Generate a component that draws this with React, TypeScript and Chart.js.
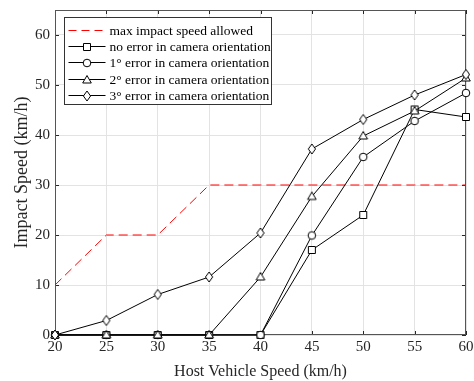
import React, { useEffect, useRef } from "react";
import { Chart, registerables } from "chart.js";

Chart.register(...registerables);

const hostSpeeds = [20, 25, 30, 35, 40, 45, 50, 55, 60];
const maxAllowed = [10, 20, 20, 30, 30, 30, 30, 30, 30];
const noError = [0, 0, 0, 0, 0, 17, 24, 45.1, 43.6];
const err1 = [0, 0, 0, 0, 0, 19.9, 35.6, 42.8, 48.4];
const err2 = [0, 0, 0, 0, 11.6, 27.7, 39.8, 44.8, 51.4];
const err3 = [0, 2.9, 8.1, 11.6, 20.4, 37.2, 43.1, 48, 52.1];
const xTicks = [20, 25, 30, 35, 40, 45, 50, 55, 60];
const yTicks = [0, 10, 20, 30, 40, 50, 60];

const labels = [
  "max impact speed allowed",
  "no error in camera orientation",
  "1° error in camera orientation",
  "2° error in camera orientation",
  "3° error in camera orientation",
];
const markerKinds = ["", "square", "circle", "triangle", "diamond"];
const series = [maxAllowed, noError, err1, err2, err3];

const FONT = "'Liberation Serif', 'Times New Roman', serif";
const AXIS = "#262626";

function makeMarker(kind: string): HTMLCanvasElement {
  const c = document.createElement("canvas");
  const w = 12;
  const h = 14;
  c.width = w;
  c.height = h;
  const g = c.getContext("2d")!;
  const cx = w / 2;
  const cy = h / 2;
  g.fillStyle = "#fff";
  g.strokeStyle = "#000";
  g.lineWidth = 1;
  g.beginPath();
  if (kind === "square") {
    g.rect(cx - 3.5, cy - 3.5, 7, 7);
  } else if (kind === "circle") {
    g.arc(cx, cy, 3.8, 0, Math.PI * 2);
  } else if (kind === "triangle") {
    g.moveTo(cx, cy - 4.5);
    g.lineTo(cx + 4.3, cy + 3);
    g.lineTo(cx - 4.3, cy + 3);
    g.closePath();
  } else {
    g.moveTo(cx, cy - 5);
    g.lineTo(cx + 3.6, cy);
    g.lineTo(cx, cy + 5);
    g.lineTo(cx - 3.6, cy);
    g.closePath();
  }
  g.fill();
  g.stroke();
  return c;
}

const frameTicks = {
  id: "frameTicks",
  beforeDatasetsDraw(chart: any) {
    const { ctx, chartArea: a, scales } = chart;
    ctx.save();
    ctx.strokeStyle = AXIS;
    ctx.lineWidth = 1;
    ctx.beginPath();
    const L = 4;
    xTicks.forEach((v) => {
      const x = Math.round(scales.x.getPixelForValue(v)) + 0.5;
      ctx.moveTo(x, a.bottom);
      ctx.lineTo(x, a.bottom - L);
      ctx.moveTo(x, a.top);
      ctx.lineTo(x, a.top + L);
    });
    yTicks.forEach((v) => {
      const y = Math.round(scales.y.getPixelForValue(v)) + 0.5;
      ctx.moveTo(a.left, y);
      ctx.lineTo(a.left + L, y);
      ctx.moveTo(a.right, y);
      ctx.lineTo(a.right - L, y);
    });
    ctx.stroke();
    ctx.strokeStyle = "#555";
    ctx.strokeRect(a.left + 0.5, a.top + 0.5, a.right - a.left - 1, a.bottom - a.top - 1);
    ctx.restore();
  },
};

export default function App() {
  const ref = useRef<HTMLCanvasElement | null>(null);
  useEffect(() => {
    if (!ref.current) return;
    const imgs = markerKinds.map((k) => (k ? makeMarker(k) : null));
    const legendBox = {
      id: "legendBox",
      afterDraw(chart: any) {
        const { ctx, chartArea: a } = chart;
        const bx = Math.round(a.left) + 9.5;
        const by = Math.round(a.top) + 7.5;
        const bw = 207;
        const bh = 87;
        ctx.save();
        ctx.fillStyle = "#fff";
        ctx.fillRect(bx, by, bw, bh);
        ctx.strokeStyle = "#333";
        ctx.lineWidth = 1;
        ctx.strokeRect(bx, by, bw, bh);
        ctx.font = `13.5px ${FONT}`;
        ctx.textBaseline = "middle";
        labels.forEach((lab, i) => {
          const y = Math.round(by + 12 + i * 16.4) + 0.5;
          const x0 = bx + 4;
          const x1 = bx + 41;
          const cx = (x0 + x1) / 2;
          ctx.beginPath();
          if (i === 0) {
            ctx.strokeStyle = "#ff0000";
            ctx.setLineDash([8, 5]);
          } else {
            ctx.strokeStyle = "#000";
            ctx.setLineDash([]);
          }
          ctx.moveTo(x0, y);
          ctx.lineTo(x1, y);
          ctx.stroke();
          ctx.setLineDash([]);
          const im = imgs[i];
          if (im) ctx.drawImage(im, Math.round(cx - im.width / 2), Math.round(y - im.height / 2));
          ctx.fillStyle = "#000";
          ctx.fillText(lab, bx + 45, y + 0.5);
        });
        ctx.restore();
      },
    };
    const datasets = series.map((d, i) => ({
      label: labels[i],
      data: d,
      order: series.length - i,
      borderColor: i === 0 ? "#ff0000" : "#000",
      borderWidth: 1,
      borderDash: i === 0 ? [9, 5] : [],
      pointStyle: i === 0 ? false : (imgs[i] as any),
      pointRadius: i === 0 ? 0 : 5,
      tension: 0,
      fill: false,
      clip: false as any,
    }));
    const chart = new Chart(ref.current, {
      type: "line",
      data: { labels: hostSpeeds, datasets },
      plugins: [frameTicks, legendBox],
      options: {
        animation: false,
        responsive: false,
        maintainAspectRatio: false,
        events: [],
        layout: { padding: { top: 10, right: 8, left: 0, bottom: 0 } },
        plugins: { legend: { display: false }, tooltip: { enabled: false } },
        scales: {
          x: {
            type: "linear",
            min: 20,
            max: 60,
            afterBuildTicks: (s: any) => {
              s.ticks = xTicks.map((v) => ({ value: v }));
            },
            afterFit: (s: any) => {
              s.height = 46;
              s.paddingLeft = 0;
              s.paddingRight = 0;
            },
            grid: { color: "#e3e3e3", drawTicks: false },
            border: { display: false },
            ticks: {
              color: AXIS,
              font: { family: FONT, size: 15 },
              padding: 3,
              maxRotation: 0,
            },
            title: {
              display: true,
              text: "Host Vehicle Speed (km/h)",
              color: AXIS,
              font: { family: FONT, size: 16 },
              padding: { top: 0, bottom: 0 },
            },
          },
          y: {
            min: 0,
            max: 65,
            afterBuildTicks: (s: any) => {
              s.ticks = yTicks.map((v) => ({ value: v }));
            },
            afterFit: (s: any) => {
              s.width = 55;
              s.paddingTop = 0;
              s.paddingBottom = 0;
            },
            grid: { color: "#e3e3e3", drawTicks: false },
            border: { display: false },
            ticks: {
              color: AXIS,
              font: { family: FONT, size: 15 },
              padding: 5,
            },
            title: {
              display: true,
              text: "Impact Speed (km/h)",
              color: AXIS,
              font: { family: FONT, size: 18 },
              padding: { top: 11, bottom: 0 },
            },
          },
        },
      },
    });
    return () => chart.destroy();
  }, []);
  return (
    <div style={{ position: "fixed", left: 0, top: 0, width: 474, height: 381, background: "#fff" }}>
      <canvas ref={ref} width={474} height={381} style={{ width: 474, height: 381 }} />
    </div>
  );
}
